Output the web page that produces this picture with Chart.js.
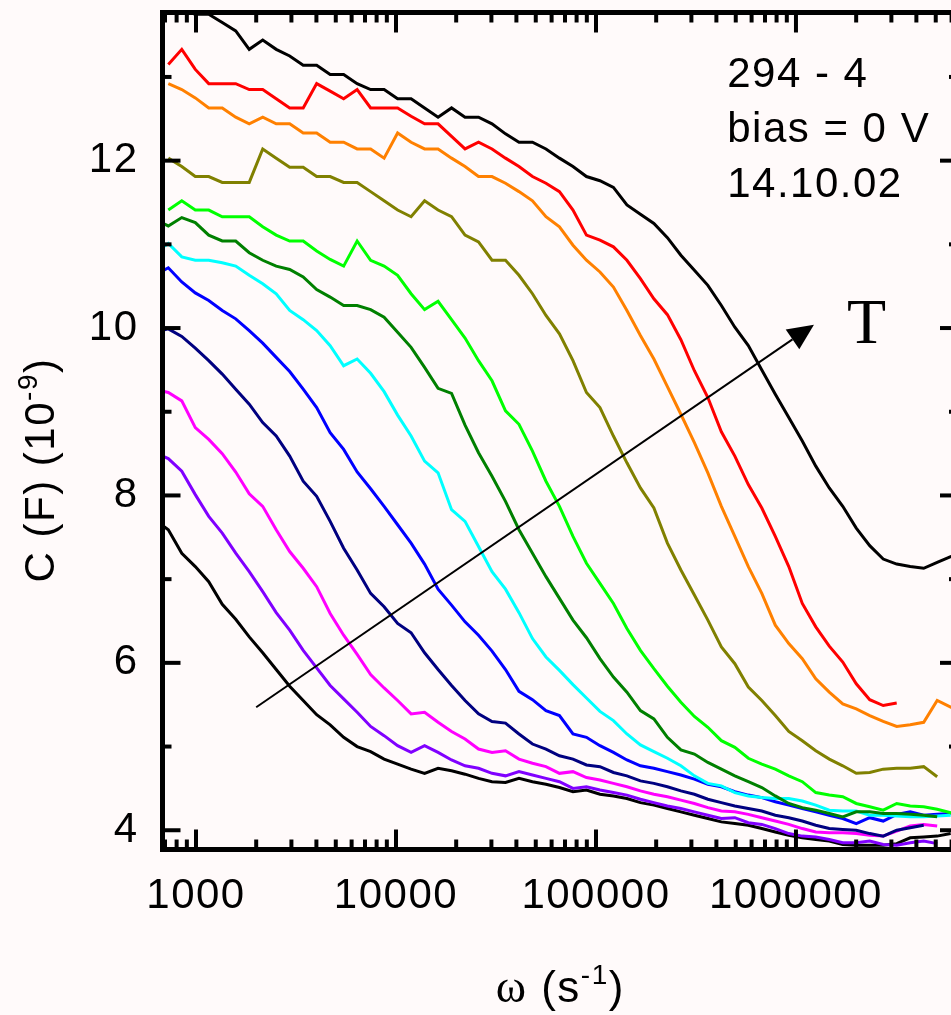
<!DOCTYPE html>
<html>
<head>
<meta charset="utf-8">
<script src="https://cdn.jsdelivr.net/npm/chart.js@4.4.1/dist/chart.umd.min.js"></script>
<style>
  html, body { margin: 0; padding: 0; background: #fffafa; overflow: hidden; }
  #wrap { position: relative; width: 980px; height: 1015px; }
  canvas { display: block; }
</style>
</head>
<body>
<div id="wrap"><canvas id="chart" width="980" height="1015"></canvas></div>
<script>
// Angular frequency grid (s^-1)
const omega = [622, 727, 849, 992, 1158, 1353, 1580, 1846, 2156, 2518, 2941, 3436, 4012, 4687, 5474, 6394, 7468, 8722, 10189, 11900, 13899, 16234, 18961, 22146, 25866, 30211, 35287, 41214, 48137, 56224, 65668, 76736, 89622, 104690, 122260, 142800, 166800, 194800, 227600, 265800, 310500, 362600, 423600, 494700, 577800, 674900, 788300, 920700, 1075600, 1256300, 1467400, 1714000, 2002000, 2338000, 2731000, 3190000, 3726000, 4352000, 5083000, 5937000, 6935000];

// Capacitance C (10^-9 F), one series per temperature, warmest first
const capBlackHot = [13.84,13.82,13.80,13.75,13.75,13.65,13.55,13.33,13.44,13.33, 13.25,13.14,13.14,13.03,13.03,12.92,12.85,12.85,12.74,12.74, 12.63,12.52,12.63,12.52,12.52,12.44,12.32,12.22,12.22,12.14, 12.03,11.93,11.81,11.76,11.68,11.47,11.36,11.25,11.08,10.87, 10.69,10.51,10.27,10.01,9.79,9.50,9.21,8.93,8.65,8.35, 8.09,7.87,7.61,7.40,7.24,7.18,7.15,7.13,7.20,7.27, 7.32];
const capRed = [null,13.15,13.33,13.09,12.92,12.92,12.92,12.85,12.85,12.74, 12.63,12.63,12.92,12.83,12.74,12.85,12.63,12.63,12.63,12.53, 12.44,12.44,12.29,12.14,12.22,12.14,12.03,11.93,11.81,11.73, 11.63,11.41,11.11,11.05,10.97,10.81,10.59,10.35,10.16,9.86, 9.49,9.17,8.76,8.47,8.13,7.85,7.51,7.15,6.71,6.43, 6.20,6.01,5.75,5.56,5.49,5.52,null,null,null,null, null];
const capOrange = [null,12.92,12.85,12.75,12.63,12.63,12.52,12.44,12.52,12.44, 12.44,12.33,12.33,12.22,12.22,12.14,12.14,12.03,12.33,12.22, 12.14,12.14,12.03,11.93,11.81,11.81,11.73,11.63,11.52,11.33, 11.21,10.99,10.81,10.67,10.49,10.21,9.91,9.63,9.30,8.97, 8.63,8.27,7.87,7.51,7.15,6.83,6.45,6.23,6.05,5.81, 5.65,5.51,5.45,5.37,5.30,5.24,5.26,5.29,5.55,5.47, 5.40];
const capOlive = [null,12.03,11.93,11.81,11.81,11.74,11.74,11.74,12.14,12.03, 11.92,11.92,11.81,11.81,11.74,11.74,11.63,11.52,11.41,11.33, 11.52,11.41,11.33,11.11,11.03,10.81,10.81,10.63,10.41,10.15, 9.93,9.61,9.23,9.05,8.71,8.39,8.09,7.85,7.43,7.11, 6.81,6.51,6.19,5.99,5.71,5.55,5.37,5.18,5.07,4.95, 4.85,4.77,4.68,4.69,4.73,4.74,4.74,4.76,4.64,null, null];
const capLime = [null,11.41,11.52,11.41,11.41,11.33,11.33,11.33,11.21,11.11, 11.04,11.04,10.92,10.82,10.74,11.04,10.81,10.74,10.63,10.41, 10.22,10.32,10.10,9.88,9.61,9.37,9.01,8.85,8.53,8.17, 7.87,7.51,7.19,6.95,6.71,6.41,6.15,5.93,5.72,5.53, 5.36,5.23,5.07,4.99,4.86,4.79,4.73,4.65,4.58,4.45, 4.42,4.40,4.32,4.28,4.24,4.32,4.29,4.28,4.25,4.21, 4.20];
const capDarkGreen = [11.30,11.22,11.32,11.26,11.11,11.04,11.04,10.90,10.81,10.74, 10.70,10.61,10.46,10.37,10.27,10.27,10.22,10.13,9.95,9.77, 9.53,9.28,9.22,8.84,8.51,8.23,7.93,7.59,7.31,7.03, 6.77,6.51,6.30,6.05,5.83,5.65,5.43,5.33,5.11,4.96, 4.91,4.81,4.73,4.65,4.58,4.51,4.41,4.32,4.27,4.24, 4.20,4.16,4.22,4.22,4.20,4.20,4.19,4.18,4.16,null, null];
const capCyan = [10.90,11.01,10.85,10.81,10.81,10.78,10.74,10.63,10.53,10.41, 10.21,10.10,9.97,9.79,9.55,9.63,9.46,9.24,8.96,8.71, 8.41,8.27,7.83,7.69,7.39,7.09,6.88,6.60,6.29,6.07, 5.91,5.74,5.58,5.42,5.31,5.15,5.02,4.94,4.86,4.77, 4.65,4.56,4.53,4.45,4.41,4.39,4.38,4.38,4.35,4.30, 4.24,4.23,4.23,4.18,4.18,4.17,4.16,4.16,4.17,4.18, null];
const capBlue = [10.63,10.72,10.55,10.42,10.33,10.21,10.11,9.97,9.82,9.65, 9.48,9.27,9.05,8.75,8.55,8.28,8.08,7.87,7.65,7.43, 7.18,6.88,6.69,6.49,6.33,6.14,5.92,5.66,5.56,5.43, 5.37,5.15,5.11,5.01,4.93,4.84,4.77,4.74,4.70,4.66, 4.61,4.55,4.52,4.46,4.42,4.39,4.34,4.30,4.26,4.22, 4.18,4.14,4.08,4.15,4.11,4.19,4.22,4.18,4.19,4.20, null];
const capNavy = [9.95,9.99,9.90,9.76,9.61,9.45,9.27,9.09,8.87,8.71, 8.47,8.17,7.99,7.69,7.37,7.11,6.83,6.67,6.47,6.36, 6.12,5.92,5.73,5.55,5.39,5.30,5.28,5.15,5.03,4.97, 4.89,4.85,4.78,4.76,4.69,4.65,4.59,4.56,4.52,4.47, 4.43,4.37,4.33,4.29,4.26,4.23,4.18,4.15,4.11,4.06, 4.02,4.01,4.00,3.96,3.93,4.00,4.03,4.06,null,null, null];
const capMagenta = [9.27,9.23,9.13,8.81,8.67,8.50,8.28,8.02,7.87,7.59, 7.33,7.13,6.91,6.59,6.33,6.10,5.86,5.70,5.55,5.39, 5.41,5.29,5.18,5.09,4.97,4.93,4.95,4.85,4.80,4.76, 4.68,4.70,4.63,4.60,4.56,4.52,4.47,4.43,4.40,4.36, 4.32,4.27,4.23,4.22,4.19,4.15,4.11,4.07,4.02,3.98, 3.97,3.97,3.96,3.94,3.93,3.99,4.05,4.07,4.05,null, null];
const capViolet = [8.51,8.44,8.29,8.01,7.75,7.55,7.31,7.09,6.85,6.60, 6.39,6.15,5.94,5.73,5.57,5.41,5.24,5.13,5.01,4.93, 5.01,4.93,4.84,4.77,4.74,4.68,4.65,4.70,4.66,4.62, 4.58,4.50,4.52,4.48,4.45,4.42,4.37,4.33,4.29,4.26, 4.22,4.18,4.14,4.15,4.09,4.07,4.02,3.96,3.93,3.92, 3.89,3.85,3.85,3.87,3.83,3.82,3.85,3.87,3.84,null, null];
const capBlackCold = [7.71,7.59,7.31,7.15,6.97,6.70,6.52,6.31,6.12,5.92, 5.72,5.55,5.38,5.26,5.11,5.00,4.94,4.85,4.79,4.73, 4.68,4.74,4.71,4.67,4.62,4.58,4.57,4.62,4.58,4.55, 4.51,4.46,4.48,4.43,4.41,4.38,4.33,4.30,4.26,4.22, 4.18,4.14,4.10,4.08,4.06,4.02,3.98,3.94,3.91,3.89, 3.87,3.83,3.82,3.82,3.82,3.84,3.91,3.92,3.93,3.96, null];

const seriesValues = [capBlackHot, capRed, capOrange, capOlive, capLime, capDarkGreen, capCyan, capBlue, capNavy, capMagenta, capViolet, capBlackCold];
const seriesColors = ['#000000', '#ff0000', '#ff8000', '#808000', '#00ff00', '#008000', '#00ffff', '#0000ff', '#000080', '#ff00ff', '#8000ff', '#000000'];

// Axes
const xRange = [680, 6.46e6];
const yRange = [3.77, 13.77];
const xTickValues = [1000, 10000, 100000, 1000000];
const xTickLabels = ['1000', '10000', '100000', '1000000'];
const xMinorValues = [700, 800, 900, 2000, 3000, 4000, 5000, 6000, 7000, 8000, 9000, 20000, 30000, 40000, 50000, 60000, 70000, 80000, 90000, 200000, 300000, 400000, 500000, 600000, 700000, 800000, 900000, 2000000, 3000000, 4000000, 5000000, 6000000];
const yTickValues = [4, 6, 8, 10, 12];
const yTickLabels = ['4', '6', '8', '10', '12'];
const yMinorValues = [5, 7, 9, 11, 13];

// Annotations (data coordinates)
const infoLines = ['294 - 4', 'bias = 0 V', '14.10.02'];
const infoAt = [453000, 12.88];
const arrowFrom = [2000, 5.47];
const arrowTo = [1230000, 10.04];
const tLabel = 'T';
const tLabelAt = [1800000, 9.82];

const SANS = '"Liberation Sans", Arial, Helvetica, sans-serif';
const SERIF = '"Liberation Serif", "Times New Roman", serif';

const datasets = seriesValues.map((vals, i) => ({
  data: omega.map((w, j) => vals[j] == null ? null : { x: w, y: vals[j] }).filter(p => p !== null),
  borderColor: seriesColors[i],
  backgroundColor: seriesColors[i],
  borderWidth: 3,
  pointRadius: 0,
  tension: 0,
  fill: false
}));

// Boxed frame with inward major/minor ticks on all four sides
const framePlugin = {
  id: 'frame',
  beforeDraw(chart) { chart.ctx.letterSpacing = '1.5px'; },
  afterDraw(chart) {
    const { ctx, chartArea: a, scales: { x, y } } = chart;
    ctx.save();
    ctx.strokeStyle = '#000';
    ctx.lineCap = 'butt';
    ctx.lineWidth = 4;
    const tick = (x0, y0, x1, y1) => { ctx.beginPath(); ctx.moveTo(x0, y0); ctx.lineTo(x1, y1); ctx.stroke(); };
    xTickValues.forEach(v => { const p = x.getPixelForValue(v); tick(p, a.bottom, p, a.bottom - 20); tick(p, a.top, p, a.top + 20); });
    xMinorValues.forEach(v => { const p = x.getPixelForValue(v); tick(p, a.bottom, p, a.bottom - 10); tick(p, a.top, p, a.top + 10); });
    yTickValues.forEach(v => { const p = y.getPixelForValue(v); tick(a.left, p, a.left + 18, p); tick(a.right, p, a.right - 18, p); });
    yMinorValues.forEach(v => { const p = y.getPixelForValue(v); tick(a.left, p, a.left + 9, p); tick(a.right, p, a.right - 9, p); });
    ctx.lineWidth = 5;
    ctx.lineJoin = 'miter';
    ctx.strokeRect(a.left, a.top, a.right - a.left, a.bottom - a.top);

    // axis titles
    ctx.fillStyle = '#000';
    ctx.letterSpacing = '1.5px';
    ctx.textBaseline = 'alphabetic';
    ctx.textAlign = 'left';
    // y title, rotated
    const yParts = [['C (F) (10', 42, 0, SANS], ['-9', 28, -17, SANS], [')', 42, 0, SANS]];
    let total = 0;
    yParts.forEach(p => { ctx.font = p[1] + 'px ' + p[3]; total += ctx.measureText(p[0]).width; });
    ctx.save();
    ctx.translate(54, 470);
    ctx.rotate(-Math.PI / 2);
    let cx = -total / 2;
    yParts.forEach(p => { ctx.font = p[1] + 'px ' + p[3]; ctx.fillText(p[0], cx, p[2]); cx += ctx.measureText(p[0]).width; });
    ctx.restore();
    // x title
    const xParts = [['\u03c9', 46, 0, SERIF], [' (s', 44, 0, SANS], ['-1', 28, -18, SANS], [')', 44, 0, SANS]];
    total = 0;
    xParts.forEach(p => { ctx.font = p[1] + 'px ' + p[3]; total += ctx.measureText(p[0]).width; });
    cx = (a.left + a.right) / 2 - total / 2;
    xParts.forEach(p => { ctx.font = p[1] + 'px ' + p[3]; ctx.fillText(p[0], cx, 1002 + p[2]); cx += ctx.measureText(p[0]).width; });
    ctx.restore();
  }
};

// Temperature arrow, "T" and sample information
const annotationPlugin = {
  id: 'notes',
  afterDatasetsDraw(chart) {
    const { ctx, scales: { x, y } } = chart;
    const x0 = x.getPixelForValue(arrowFrom[0]), y0 = y.getPixelForValue(arrowFrom[1]);
    const x1 = x.getPixelForValue(arrowTo[0]), y1 = y.getPixelForValue(arrowTo[1]);
    const ang = Math.atan2(y1 - y0, x1 - x0);
    const headLen = 26, headHalf = 12;
    const bx = x1 - headLen * Math.cos(ang), by = y1 - headLen * Math.sin(ang);
    ctx.save();
    ctx.strokeStyle = '#000';
    ctx.fillStyle = '#000';
    ctx.lineWidth = 2;
    ctx.beginPath(); ctx.moveTo(x0, y0); ctx.lineTo(bx, by); ctx.stroke();
    ctx.beginPath();
    ctx.moveTo(x1, y1);
    ctx.lineTo(bx + headHalf * Math.sin(ang), by - headHalf * Math.cos(ang));
    ctx.lineTo(bx - headHalf * Math.sin(ang), by + headHalf * Math.cos(ang));
    ctx.closePath(); ctx.fill();

    ctx.textAlign = 'left';
    ctx.textBaseline = 'alphabetic';
    ctx.letterSpacing = '0px';
    ctx.font = '64px ' + SERIF;
    ctx.fillText(tLabel, x.getPixelForValue(tLabelAt[0]), y.getPixelForValue(tLabelAt[1]));

    ctx.letterSpacing = '1.5px';
    ctx.font = '42px ' + SANS;
    const tx = x.getPixelForValue(infoAt[0]);
    const ty = y.getPixelForValue(infoAt[1]);
    infoLines.forEach((s, i) => ctx.fillText(s, tx, ty + i * 55));
    ctx.restore();
  }
};

Chart.defaults.font.family = SANS;
Chart.defaults.color = '#000';

// keep the plot box exactly where the layout padding puts it
const noEdgePadding = s => { s.paddingTop = 0; s.paddingBottom = 0; s.paddingLeft = 0; s.paddingRight = 0; };

new Chart(document.getElementById('chart'), {
  type: 'line',
  data: { datasets },
  options: {
    responsive: false,
    animation: false,
    devicePixelRatio: 1,
    layout: { padding: { top: 12.5, right: 22, left: 0, bottom: 0 } },
    plugins: { legend: { display: false }, tooltip: { enabled: false } },
    scales: {
      x: {
        type: 'logarithmic',
        min: xRange[0], max: xRange[1],
        grid: { display: false, drawTicks: false },
        border: { display: false },
        afterBuildTicks: s => { s.ticks = xTickValues.map(v => ({ value: v })); },
        afterFit: s => { s.height = 165.5; noEdgePadding(s); },
        ticks: {
          autoSkip: false, maxRotation: 0, minRotation: 0, padding: 22,
          font: { size: 42, family: SANS }, color: '#000',
          callback: (v, i) => xTickLabels[i]
        }
      },
      y: {
        type: 'linear',
        min: yRange[0], max: yRange[1],
        grid: { display: false, drawTicks: false },
        border: { display: false },
        afterBuildTicks: s => { s.ticks = yTickValues.map(v => ({ value: v })); },
        afterFit: s => { s.width = 162.5; noEdgePadding(s); },
        ticks: {
          padding: 24,
          font: { size: 42, family: SANS }, color: '#000',
          callback: (v, i) => yTickLabels[i]
        }
      }
    }
  },
  plugins: [framePlugin, annotationPlugin]
});
</script>
</body>
</html>
